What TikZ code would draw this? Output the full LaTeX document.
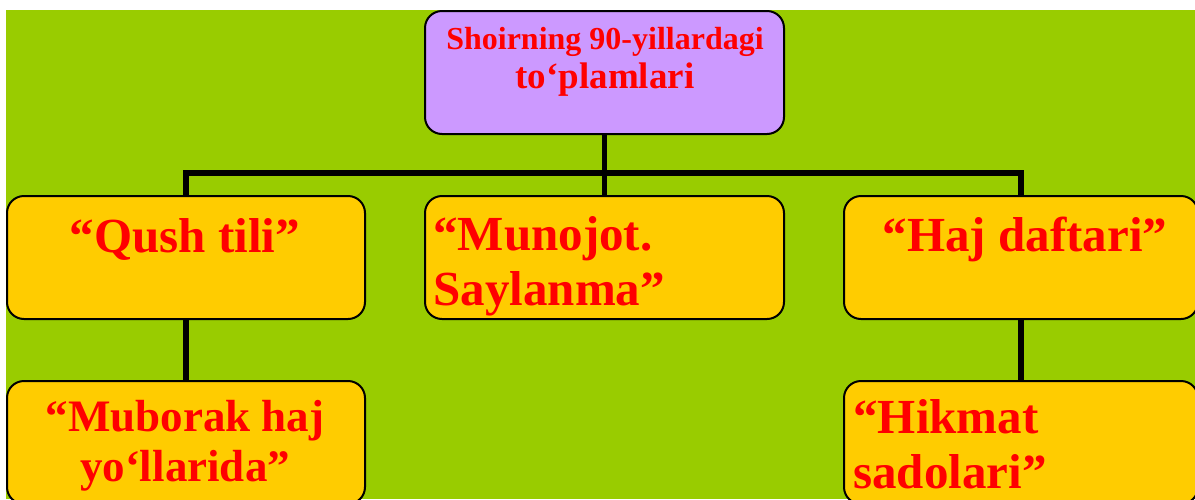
\documentclass[tikz,border=0pt]{standalone}
\usepackage{fontspec}
\setmainfont{Liberation Serif}
\definecolor{leaf}{HTML}{99CC00}
\definecolor{lilac}{HTML}{CC99FF}
\definecolor{amber}{HTML}{FFCC00}
\tikzset{
  box/.style={draw=black,line width=1pt,rounded corners=8.5pt,fill=amber,
    minimum width=179pt,minimum height=61.5pt,inner sep=0pt},
  link/.style={line width=2.75pt},
  title/.style={text=red,font=\bfseries\fontsize{24.5}{27.5}\selectfont,inner sep=0pt},
}
\begin{document}
\begin{tikzpicture}[x=0.5pt,y=-0.5pt]
  \useasboundingbox (0,0) rectangle (1195,499);
  \fill[leaf] (6,10) rectangle (1195,499);
  % boxes
  \node[box,fill=lilac,minimum width=179.5pt] (top) at (604.5,72.5) {};
  \node[box] (qush) at (186,257.5) {};
  \node[box,minimum width=179.5pt] (munojot) at (604.5,257.5) {};
  \node[box,minimum width=177pt] (haj) at (1021,257.5) {};
  \node[box] (muborak) at (186,442.5) {};
  \node[box,minimum width=177pt] (hikmat) at (1021,442.5) {};
  % links
  \coordinate (bus) at (604.5,173);
  \draw[link] (top.south) -- (bus);
  \draw[link] (bus) -| (qush.north);
  \draw[link] (bus) -| (haj.north);
  \draw[link] (bus) -- (munojot.north);
  \draw[link] (qush.south) -- (muborak.north);
  \draw[link] (haj.south) -- (hikmat.north);
  % texts
  \node[title,anchor=base,align=center,font=\bfseries\fontsize{18.5}{19.5}\selectfont] (topT) at (605,88)
    {{\fontsize{16}{19.5}\selectfont Shoirning 90-yillardagi}\\to‘plamlari};
  \node[title,anchor=base] (qushT) at (185,252) {“Qush tili”};
  \node[title,anchor=base west,align=left] (munojotT) at (433,305) {“Munojot.\\Saylanma”};
  \node[title,anchor=base] (hajT) at (1025,251) {“Haj daftari”};
  \node[title,anchor=base,align=center,font=\bfseries\fontsize{22.5}{25}\selectfont] (muborakT) at (185,481)
    {“Muborak haj\\yo‘llarida”};
  \node[title,anchor=base west,align=left] (hikmatT) at (853,488) {“Hikmat\\sadolari”};
\end{tikzpicture}
\end{document}
